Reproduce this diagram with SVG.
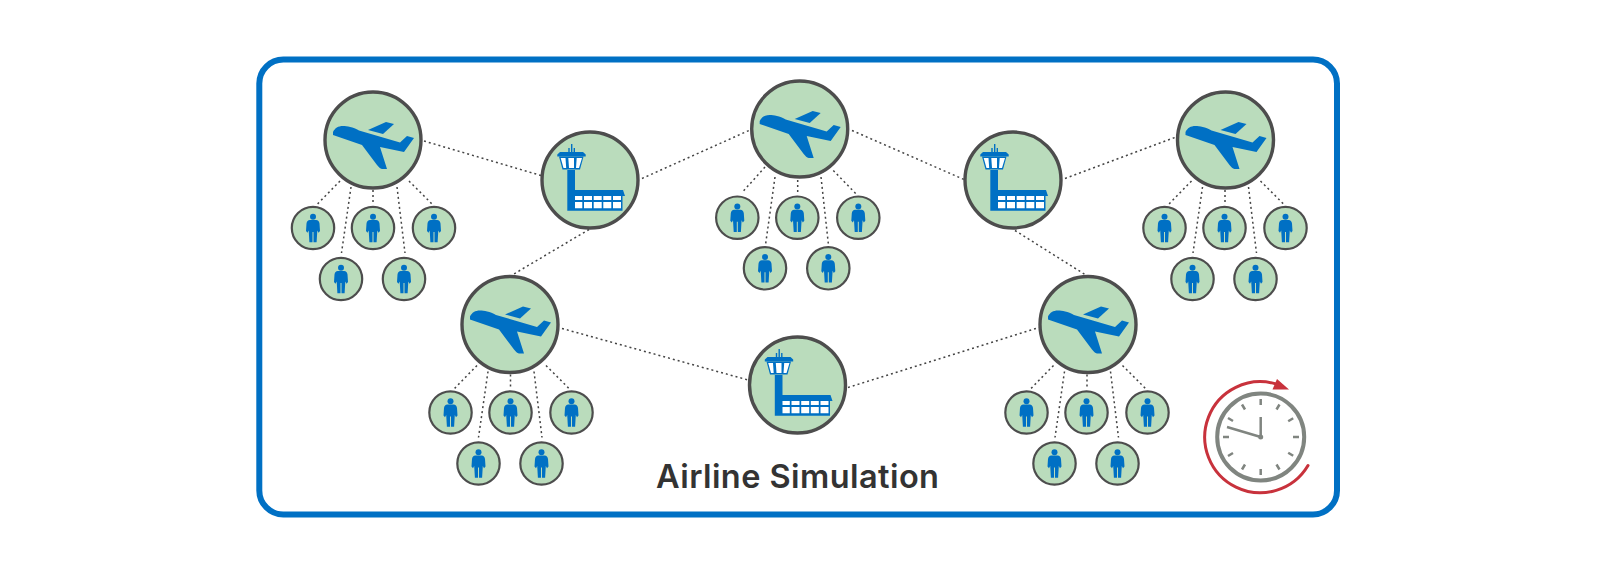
<svg xmlns="http://www.w3.org/2000/svg" width="1600" height="574" viewBox="0 0 1600 574">
<style>
.big{fill:#badcbc;stroke:#4d4d4d;stroke-width:3.4}
.small{fill:#badcbc;stroke:#4d4d4d;stroke-width:2.2}
.ic{fill:#0070c4}
.w{fill:#fff}
.c line{stroke:#444;stroke-width:1.5;stroke-dasharray:2 3;fill:none}
.title{font-family:"Inter","Liberation Sans",sans-serif;font-size:32.500px;font-weight:600;fill:#333}
</style>
<defs>
<g id="plane"><circle class="big" r="48"/>
<path class="ic" d="M-40-8C-38-12-35-14-30-14C-26-14-20-13-14-9.500L27 2.500L34-4L41-2L31 12L7 7L14 29L9 29C7 28.500 6 27.500 4 25L-11 5L-40-5Z"/>
<path class="ic" d="M-5-10L13-18L21-16L10-6Z"/></g>
<g id="tower"><circle class="big" r="48"/>
<path class="ic" d="M-19-36h1.400v8h-1.400zM-21.700-32h1.400v5h-1.400zM-16.400-32h1.400v5h-1.400zM-32.700-25.500L-30-28H-7L-4.300-25.500L-4.300-23.500H-32.700Z"/>
<path class="ic" d="M-31-23.500H-6.500L-10-10.500H-27.500Z"/>
<path class="w" d="M-29.300-22H-24.500L-23.800-12H-26.500ZM-21.700-22H-16V-12H-21ZM-13.300-22H-8L-11-12H-14Z"/>
<path class="ic" d="M-22.700-10H-15V10H33L35 16H32.500V30.700H-22.700Z"/>
<path class="w" d="M-15 16h7.300v4h-7.300zM-6 16h8v4h-8zM3.700 16h8v4h-8zM13.300 16h8v4h-8zM23 16h8v4h-8zM-15 22h7.300v6.300h-7.300zM-6 22h8v6.300h-8zM3.700 22h8v6.300h-8zM13.300 22h8v6.300h-8zM23 22h8v6.300h-8z"/></g>
<g id="person"><circle class="small" r="21.200"/>
<circle class="ic" cy="-11.300" r="3"/>
<path class="ic" d="M-3.200-8H3.200C5-8 6.200-6.500 6.500-4.500L7 3L5.500 4.800L4.300 2.500L3.600 14.300H.5V4H-.5V14.300H-3.600L-4.300 2.500L-5.500 4.800L-7 3L-6.500-4.500C-6.200-6.500-5-8-3.200-8Z"/></g>
</defs>
<rect x="259.300" y="59.500" width="1077.700" height="455" rx="24" ry="24" fill="#fff" stroke="#0070c4" stroke-width="6"/>
<g id="connectors" class="c">
<line x1="424" y1="141" x2="541" y2="175.500"/>
<line x1="642" y1="178.500" x2="750" y2="130"/>
<line x1="852" y1="130.500" x2="964" y2="179.500"/>
<line x1="1065" y1="178.500" x2="1177.500" y2="136.500"/>
<line x1="589" y1="229.500" x2="513" y2="274.500"/>
<line x1="1015" y1="230.500" x2="1085" y2="274.500"/>
<line x1="562" y1="328.500" x2="750" y2="380.500"/>
<line x1="848" y1="387.500" x2="1039" y2="327.500"/>
<line x1="340" y1="181" x2="316.500" y2="205"/><line x1="351" y1="187" x2="341.500" y2="253"/><line x1="373" y1="190" x2="373" y2="205"/><line x1="397" y1="187" x2="405" y2="253"/><line x1="409" y1="181" x2="433" y2="205"/>
<line x1="1191.500" y1="181" x2="1168" y2="205"/><line x1="1202.500" y1="187" x2="1193" y2="253"/><line x1="1225" y1="190" x2="1225" y2="205"/><line x1="1248.500" y1="187" x2="1256.500" y2="253"/><line x1="1260.500" y1="181" x2="1284.500" y2="205"/>
<line x1="477" y1="365.500" x2="453.500" y2="389.500"/><line x1="488" y1="371.500" x2="478.500" y2="437.500"/><line x1="510.500" y1="374.500" x2="510.500" y2="389.500"/><line x1="534" y1="371.500" x2="542" y2="437.500"/><line x1="546" y1="365.500" x2="570" y2="389.500"/>
<line x1="1053.500" y1="365.500" x2="1030" y2="389.500"/><line x1="1064.500" y1="371.500" x2="1055" y2="437.500"/><line x1="1087" y1="374.500" x2="1087" y2="389.500"/><line x1="1110.500" y1="371.500" x2="1118.500" y2="437.500"/><line x1="1122.500" y1="365.500" x2="1146.500" y2="389.500"/>
<line x1="765" y1="167" x2="741.700" y2="193"/><line x1="775" y1="177" x2="765.700" y2="243.500"/><line x1="797.700" y1="180" x2="797.700" y2="195"/><line x1="821" y1="177" x2="828.300" y2="243.500"/><line x1="833.300" y1="170.500" x2="855.700" y2="193.500"/>
</g>
<g id="plane-a" transform="translate(373 140)"><use href="#plane"/></g>
<g id="plane-b" transform="translate(799.700 129)"><use href="#plane"/></g>
<g id="plane-c" transform="translate(1225.500 140)"><use href="#plane"/></g>
<g id="plane-d" transform="translate(510 324.500)"><use href="#plane"/></g>
<g id="plane-e" transform="translate(1088 324.500)"><use href="#plane"/></g>
<g id="tower-1" transform="translate(590 180)"><use href="#tower"/></g>
<g id="tower-2" transform="translate(1013 180)"><use href="#tower"/></g>
<g id="tower-3" transform="translate(797.500 385)"><use href="#tower"/></g>
<g id="person-a1" transform="translate(313 228)"><use href="#person"/></g>
<g id="person-a2" transform="translate(373 228)"><use href="#person"/></g>
<g id="person-a3" transform="translate(434 228)"><use href="#person"/></g>
<g id="person-a4" transform="translate(341 279)"><use href="#person"/></g>
<g id="person-a5" transform="translate(404 279)"><use href="#person"/></g>
<g id="person-b1" transform="translate(737.300 217.700)"><use href="#person"/></g>
<g id="person-b2" transform="translate(797.300 217.700)"><use href="#person"/></g>
<g id="person-b3" transform="translate(858.300 217.700)"><use href="#person"/></g>
<g id="person-b4" transform="translate(765 268.300)"><use href="#person"/></g>
<g id="person-b5" transform="translate(828.300 268.300)"><use href="#person"/></g>
<g id="person-c1" transform="translate(1164.500 228)"><use href="#person"/></g>
<g id="person-c2" transform="translate(1224.500 228)"><use href="#person"/></g>
<g id="person-c3" transform="translate(1285.500 228)"><use href="#person"/></g>
<g id="person-c4" transform="translate(1192.500 279)"><use href="#person"/></g>
<g id="person-c5" transform="translate(1255.500 279)"><use href="#person"/></g>
<g id="person-d1" transform="translate(450.500 412.500)"><use href="#person"/></g>
<g id="person-d2" transform="translate(510.500 412.500)"><use href="#person"/></g>
<g id="person-d3" transform="translate(571.500 412.500)"><use href="#person"/></g>
<g id="person-d4" transform="translate(478.500 463.500)"><use href="#person"/></g>
<g id="person-d5" transform="translate(541.500 463.500)"><use href="#person"/></g>
<g id="person-e1" transform="translate(1026.500 412.500)"><use href="#person"/></g>
<g id="person-e2" transform="translate(1086.500 412.500)"><use href="#person"/></g>
<g id="person-e3" transform="translate(1147.500 412.500)"><use href="#person"/></g>
<g id="person-e4" transform="translate(1054.500 463.500)"><use href="#person"/></g>
<g id="person-e5" transform="translate(1117.500 463.500)"><use href="#person"/></g>
<g id="clock">
<circle cx="1260.700" cy="437" r="43.500" fill="#fff" stroke="#808580" stroke-width="4"/>
<path d="M1260.700 399v6M1260.700 469v6M1223 437h6M1293 437h6M1279.500 404.500l-3 5M1245 464.500l-3 5M1293.200 418.200l-5 3M1233 453l-5 3M1293.200 455.800l-5-3M1233 421l-5-3M1279.500 469.500l-3-5M1245 409.500l-3-5" stroke="#808580" stroke-width="2.500" fill="none"/>
<path d="M1260.700 437V417M1260.700 437L1227 427" stroke="#808580" stroke-width="2.500" fill="none"/>
<circle cx="1260.700" cy="437" r="2.500" fill="#808580"/>
<path d="M1308 465.500A55.500 55.500 0 1 1 1276 384" fill="none" stroke="#c8323c" stroke-width="3" stroke-linecap="round"/>
<path d="M1277 379L1289 389.500L1272.500 389.500Z" fill="#c8323c"/>
</g>
<text class="title" x="797.500" y="488" text-anchor="middle" textLength="283" lengthAdjust="spacing">Airline Simulation</text>
</svg>
